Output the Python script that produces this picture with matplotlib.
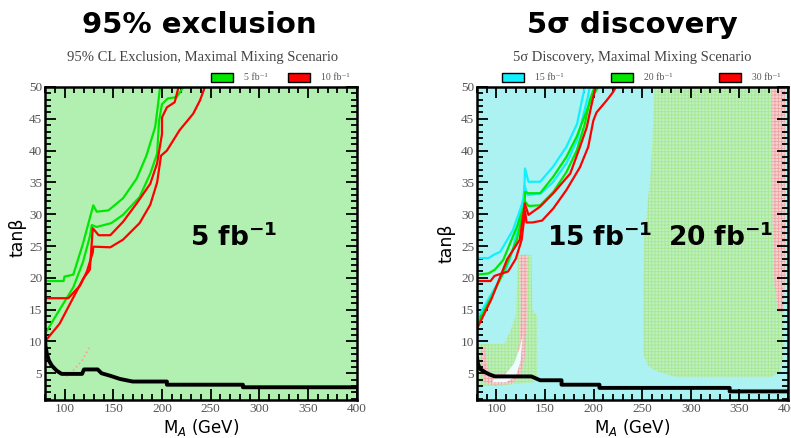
import matplotlib.pyplot as plt
from matplotlib.patches import Rectangle

plt.rcParams['hatch.linewidth'] = 0.6

# values: M_A in GeV, tan(beta)

# --- 95% CL exclusion panel ---
ex_g1_ma = [80, 99, 100, 109, 119, 129.5, 133, 145, 160, 174, 184, 193, 196, 198]
ex_g1_tb = [19.5, 19.5, 20.2, 20.5, 25.4, 31.4, 30.4, 30.6, 32.5, 35.6, 39.2, 43.7, 47.3, 50]
ex_g2_ma = [80, 95, 109, 119, 126, 128, 133, 148, 160, 177, 188, 195, 197, 200, 206, 215, 222]
ex_g2_tb = [11.2, 15, 18.5, 22.5, 26.5, 28.3, 28.0, 28.6, 29.9, 32.7, 36.4, 39.5, 44.7, 47.3, 48.2, 48.4, 50]
ex_r1_ma = [80, 95, 109, 119, 126, 129, 135, 147, 160, 174, 188, 195, 200, 200, 205, 213, 217]
ex_r1_tb = [10.0, 12.8, 16.9, 19.8, 21.3, 27.8, 26.7, 26.7, 28.8, 31.7, 34.8, 38.0, 42.6, 45.2, 46.8, 47.6, 50]
ex_r2_ma = [80, 104, 110, 116, 123, 129, 129.5, 147, 160, 177, 188, 195, 199, 205, 218, 232, 239, 244]
ex_r2_tb = [16.8, 16.8, 17.8, 18.8, 21.0, 24.0, 24.9, 24.8, 26.0, 28.6, 31.5, 35.0, 39.2, 40.0, 43.2, 45.8, 47.9, 50]
ex_black_ma = [80, 80.5, 82, 84, 87, 92, 97, 118, 120, 134, 138, 147, 157, 170, 205, 205, 283, 283, 400]
ex_black_tb = [10.5, 9.3, 8.0, 7.0, 6.2, 5.4, 4.9, 4.9, 5.6, 5.6, 5.0, 4.6, 4.1, 3.7, 3.7, 3.2, 3.2, 2.8, 2.8]
ex_pink_ma = [102, 106, 110, 114, 118, 121, 124, 126]
ex_pink_tb = [4.5, 5.0, 5.6, 6.3, 7.0, 7.8, 8.6, 9.4]

# --- 5 sigma discovery panel ---
di_c1_ma = [80, 92, 97, 104, 117, 128.5, 129.4, 133, 145, 158, 172, 183, 188, 191]
di_c1_tb = [23.1, 23.1, 23.6, 24.1, 27.5, 32.5, 37.2, 35.1, 35.1, 37.4, 40.6, 44.2, 47.9, 50]
di_c2_ma = [80, 95, 110, 117, 127.7, 129, 132, 146, 158, 172, 183, 189, 194, 196]
di_c2_tb = [13.5, 17.5, 21.4, 24.4, 32.5, 34.5, 33.0, 33.3, 35.0, 38.0, 41.6, 45.3, 48.4, 50]
di_g1_ma = [80, 92, 98.5, 107, 121, 129, 129.5, 133, 145, 158.5, 172, 182.6, 193, 198, 205]
di_g1_tb = [20.5, 20.7, 21.3, 22.8, 28.0, 31.5, 33.5, 33.3, 33.3, 35.9, 39.0, 42.2, 46.3, 48.4, 50]
di_g2_ma = [80, 95, 107, 121, 128.7, 129.5, 133, 145, 158.5, 172, 182.6, 191, 196, 201]
di_g2_tb = [12.7, 17.0, 20.8, 26.0, 31.2, 32.0, 31.3, 31.4, 33.5, 36.6, 40.0, 44.2, 47.9, 50]
di_r1_ma = [80, 95, 111, 124, 128.7, 129.2, 133, 145, 158.5, 176, 186, 193, 198, 202]
di_r1_tb = [12.0, 16.7, 22.9, 26.0, 31.0, 31.7, 29.9, 31.2, 33.3, 36.4, 40.6, 43.7, 47.3, 50]
di_r2_ma = [80, 94, 98, 112, 120, 126, 129.5, 131, 137, 147, 158.5, 172, 186, 194.5, 199.7, 203, 213.5, 220, 223]
di_r2_tb = [19.5, 19.5, 20.3, 21.0, 23.0, 26.0, 30.5, 28.7, 28.7, 29.0, 30.9, 33.8, 37.4, 40.6, 44.7, 46.0, 47.9, 49.2, 50]
di_black_ma = [80, 81, 83, 88, 93, 98.5, 136, 145, 167, 167, 206, 206, 340, 340, 400]
di_black_tb = [7.5, 6.5, 5.7, 5.2, 4.8, 4.5, 4.5, 3.9, 3.9, 3.2, 3.2, 2.7, 2.7, 2.15, 2.15]

# dotted (20 / 30 fb-1) regions in the discovery panel
di_green_hi_ma = [263, 259, 252, 251, 251, 256, 265, 285, 383, 392, 396, 396]
di_green_hi_tb = [50, 37, 26, 17, 8, 6.2, 5.3, 4.4, 4.4, 5.3, 8, 50]
di_pink_hi_ma = [383, 384, 386, 390, 395, 397, 397]
di_pink_hi_tb = [50, 30, 19, 14.6, 14.6, 20, 50]
di_green_lo_ma = [80, 80, 108, 114, 120, 122, 136, 137, 142, 142, 138, 100]
di_green_lo_tb = [3.0, 9.6, 9.6, 11.5, 14, 23.6, 23.6, 15, 14, 4.3, 3.6, 3.0]
di_pink_lo_ma = [84, 85, 88, 95, 115, 124, 129, 131, 132, 124, 125, 124, 120, 112, 100, 92, 88]
di_pink_lo_tb = [9.0, 5, 3.6, 3.2, 3.3, 4.5, 7, 12, 23.6, 23.6, 15, 10, 7, 5.2, 4.8, 5.2, 9.0]
di_white_ma = [96, 110, 120, 125, 127, 124, 118, 108, 98]
di_white_tb = [3.6, 3.6, 4.5, 7, 11, 9, 6.5, 4.6, 4.3]

x_ticks = [100, 150, 200, 250, 300, 350, 400]
y_ticks = [5, 10, 15, 20, 25, 30, 35, 40, 45, 50]
ex_legend = ['5 fb⁻¹', '10 fb⁻¹']
di_legend = ['15 fb⁻¹', '20 fb⁻¹', '30 fb⁻¹']

GREEN = '#00e800'
RED = '#ff0000'
CYAN = '#10f0ff'

fig = plt.figure(figsize=(7.91, 4.38), dpi=100)
ax1 = fig.add_axes([0.0569, 0.0868, 0.3944, 0.7146])
ax2 = fig.add_axes([0.6030, 0.0868, 0.3932, 0.7146])

for ax in (ax1, ax2):
    ax.set_xlim(80, 400)
    ax.set_ylim(0.8, 50)
    ax.set_xticks(x_ticks)
    ax.set_xticks(range(80, 401, 10), minor=True)
    ax.set_yticks(y_ticks)
    ax.set_yticks(range(1, 51), minor=True)
    ax.tick_params(which='both', direction='in', top=True, right=True,
                   width=1.3, labelsize=9.5, labelcolor='#555555', pad=2)
    ax.tick_params(which='major', length=8)
    ax.tick_params(which='minor', length=4)
    for lab in ax.get_xticklabels() + ax.get_yticklabels():
        lab.set_fontfamily('Liberation Serif')
    for sp in ax.spines.values():
        sp.set_linewidth(1.8)
    ax.set_xlabel('M$_A$ (GeV)', fontsize=12)
    ax.set_ylabel('tanβ', fontsize=12.5)

ax1.xaxis.set_label_coords(0.5, -0.055)
ax1.yaxis.set_label_coords(-0.058, 0.52)
ax2.xaxis.set_label_coords(0.498, -0.055)
ax2.yaxis.set_label_coords(-0.07, 0.5)

# left: exclusion
ax1.set_facecolor('#b2f0b2')
ax1.plot(ex_pink_ma, ex_pink_tb, ':', color='#f4a0a0', lw=1.2)
ax1.plot(ex_g1_ma, ex_g1_tb, color=GREEN, lw=1.6)
ax1.plot(ex_g2_ma, ex_g2_tb, color=GREEN, lw=1.6)
ax1.plot(ex_r1_ma, ex_r1_tb, color=RED, lw=1.6)
ax1.plot(ex_r2_ma, ex_r2_tb, color=RED, lw=1.6)
ax1.plot(ex_black_ma, ex_black_tb, color='black', lw=2.8)
ax1.text(0.465, 0.518, '5 fb$^{\\mathbf{-1}}$', transform=ax1.transAxes,
         fontsize=19, fontweight='bold', va='center')

# right: discovery
ax2.set_facecolor('#adf2f2')
ax2.fill(di_green_hi_ma, di_green_hi_tb, facecolor='#bcf0c2', edgecolor='#a8e890',
         hatch='+++++', lw=0)
ax2.fill(di_pink_hi_ma, di_pink_hi_tb, facecolor='#f0d4d4', edgecolor='#f4a0a0',
         hatch='+++++', lw=0)
ax2.fill(di_green_lo_ma, di_green_lo_tb, facecolor='#bcf0c2', edgecolor='#a8e890',
         hatch='+++++', lw=0)
ax2.fill(di_pink_lo_ma, di_pink_lo_tb, facecolor='#f0d4d4', edgecolor='#f4a0a0',
         hatch='+++++', lw=0)
ax2.fill(di_white_ma, di_white_tb, facecolor='#eefcfc', lw=0)
ax2.plot(di_c1_ma, di_c1_tb, color=CYAN, lw=1.6)
ax2.plot(di_c2_ma, di_c2_tb, color=CYAN, lw=1.6)
ax2.plot(di_g1_ma, di_g1_tb, color=GREEN, lw=1.6)
ax2.plot(di_g2_ma, di_g2_tb, color=GREEN, lw=1.6)
ax2.plot(di_r1_ma, di_r1_tb, color=RED, lw=1.6)
ax2.plot(di_r2_ma, di_r2_tb, color=RED, lw=1.6)
ax2.plot(di_black_ma, di_black_tb, color='black', lw=2.8)
ax2.text(0.225, 0.518, '15 fb$^{\\mathbf{-1}}$', transform=ax2.transAxes,
         fontsize=19, fontweight='bold', va='center')
ax2.text(0.614, 0.518, '20 fb$^{\\mathbf{-1}}$', transform=ax2.transAxes,
         fontsize=19, fontweight='bold', va='center')

# small legends above the frames
for ax, xs, colors, labels in [(ax1, [0.532, 0.78], [GREEN, RED], ex_legend),
                               (ax2, [0.080, 0.431, 0.778], [CYAN, GREEN, RED], di_legend)]:
    for x0, c, lab in zip(xs, colors, labels):
        ax.add_patch(Rectangle((x0, 1.016), 0.07, 0.03, transform=ax.transAxes,
                               clip_on=False, facecolor=c, edgecolor='black', lw=1))
        ax.text(x0 + 0.105, 1.031, lab, transform=ax.transAxes, fontsize=7,
                family=['Liberation Serif', 'DejaVu Serif'], color='#555555', va='center')

# titles
fig.text(199 / 791, 1 - 25 / 438, '95% exclusion', ha='center', va='center',
         fontsize=21, fontweight='bold')
fig.text(632 / 791, 1 - 25 / 438, '5σ discovery', ha='center', va='center',
         fontsize=21, fontweight='bold')
fig.text(203 / 791, 1 - 57 / 438, '95% CL Exclusion, Maximal Mixing Scenario',
         ha='center', va='center', fontsize=10.5, family='Liberation Serif', color='#444444')
fig.text(632 / 791, 1 - 57 / 438, '5σ Discovery, Maximal Mixing Scenario',
         ha='center', va='center', fontsize=10.5, family='Liberation Serif', color='#444444')

fig.savefig('out.png', dpi=100)
